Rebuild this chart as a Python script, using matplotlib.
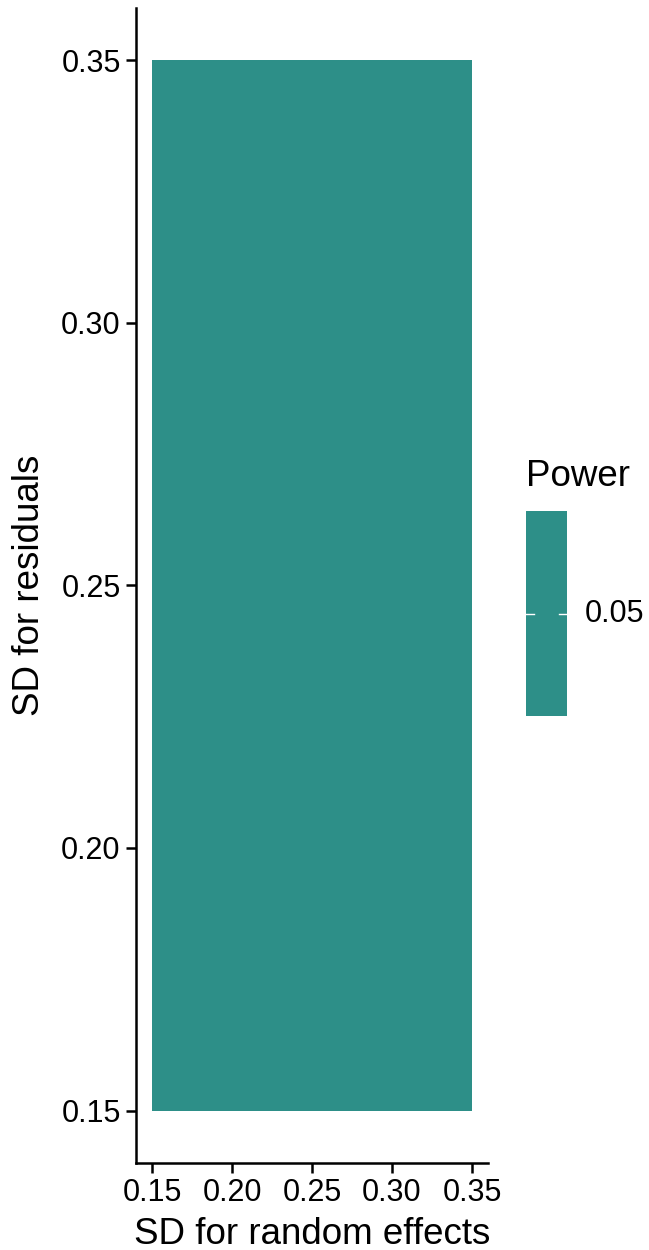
import matplotlib
matplotlib.use("Agg")
import matplotlib.pyplot as plt
import numpy as np

plt.rcParams['font.family'] = ['Liberation Sans', 'DejaVu Sans']

# data
sd_random_edges = [0.15, 0.35]
sd_resid_edges = [0.15, 0.35]
power = np.array([[0.05]])
x_ticks = [0.15, 0.20, 0.25, 0.30, 0.35]
y_ticks = [0.15, 0.20, 0.25, 0.30, 0.35]
fill_color = '#2D8F88'

W, H = 649, 1250
fig = plt.figure(figsize=(W / 100, H / 100), dpi=100)
ax = fig.add_axes([136 / W, 1 - 1163 / H, (488 - 136) / W, (1163 - 8) / H])

ax.pcolormesh(sd_random_edges, sd_resid_edges, power,
              cmap=matplotlib.colors.ListedColormap([fill_color]), shading='flat')
ax.set_xlim(0.14, 0.36)
ax.set_ylim(0.14, 0.36)
ax.set_xticks(x_ticks)
ax.set_yticks(y_ticks)
ax.set_xticklabels(['%.2f' % v for v in x_ticks])
ax.set_yticklabels(['%.2f' % v for v in y_ticks])
for s in ['top', 'right']:
    ax.spines[s].set_visible(False)
for s in ['left', 'bottom']:
    ax.spines[s].set_linewidth(1.8)
ax.tick_params(axis='both', labelsize=22, width=1.8, length=7, color='black', pad=4)
ax.set_xlabel('SD for random effects', fontsize=26.5, labelpad=6)
ax.set_ylabel('SD for residuals', fontsize=26.5, labelpad=10)

# legend colour bar
cax = fig.add_axes([526 / W, 1 - 716 / H, 41 / W, 205 / H])
cax.axhspan(0, 1, color=fill_color)
cax.set_xlim(0, 1)
cax.set_ylim(0, 1)
cax.plot([0, 0.2], [0.5, 0.5], color='white', lw=1)
cax.plot([0.8, 1.0], [0.5, 0.5], color='white', lw=1)
cax.axis('off')
fig.text(585 / W, 1 - 614 / H, '%.2f' % power[0, 0], fontsize=22, va='center', ha='left')
fig.text(526 / W, 1 - 477 / H, 'Power', fontsize=26.5, va='center', ha='left')

fig.savefig('out.png', dpi=100)
